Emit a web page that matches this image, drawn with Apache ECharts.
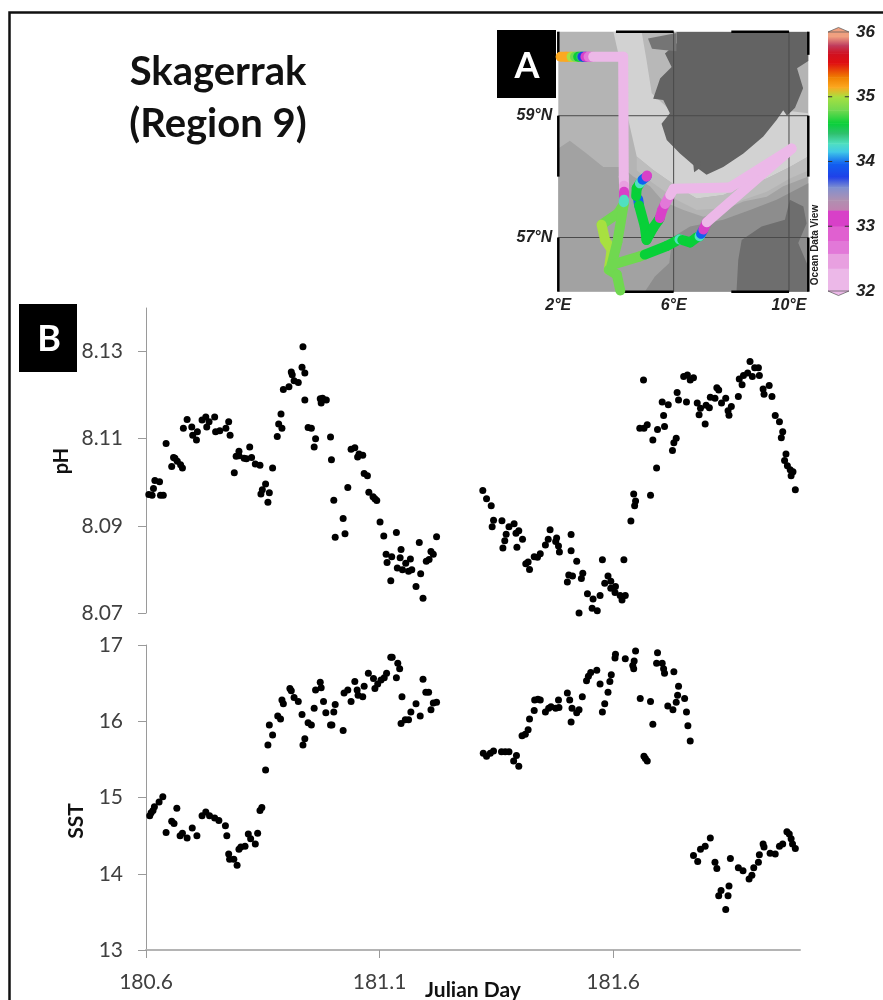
<!DOCTYPE html>
<html><head><meta charset="utf-8">
<style>html,body{margin:0;padding:0;background:#fff}#c{width:883px;height:1000px}</style>
<script src="https://cdn.jsdelivr.net/npm/echarts@6/dist/echarts.min.js"></script>
</head><body><div id="c"></div>
<script>
const dayTicks=[180.6,181.1,181.6];
const phTicks=[8.07,8.09,8.11,8.13];
const sstTicks=[13,14,15,16,17];
const phLeg1=[[180.606,8.0972],[180.613,8.0970],[180.616,8.0986],[180.619,8.1004],[180.629,8.1001],[180.631,8.0970],[180.637,8.0970],[180.643,8.1089],[180.655,8.1036],[180.659,8.1057],[180.662,8.1055],[180.667,8.1048],[180.674,8.1040],[180.678,8.1033],[180.680,8.1124],[180.688,8.1144],[180.698,8.1127],[180.700,8.1108],[180.708,8.1097],[180.710,8.1116],[180.720,8.1143],[180.728,8.1150],[180.735,8.1139],[180.730,8.1127],[180.747,8.1150],[180.749,8.1116],[180.758,8.1118],[180.771,8.1124],[180.777,8.1139],[180.780,8.1108],[180.789,8.1022],[180.793,8.1060],[180.799,8.1071],[180.799,8.1061],[180.810,8.1055],[180.815,8.1054],[180.822,8.1081],[180.826,8.1057],[180.834,8.1042],[180.844,8.1039],[180.871,8.1033],[180.846,8.0973],[180.849,8.0983],[180.856,8.0996],[180.864,8.0976],[180.861,8.0954],[180.881,8.1105],[180.884,8.1134],[180.889,8.1157],[180.891,8.1124],[180.894,8.1213],[180.906,8.1219],[180.911,8.1253],[180.913,8.1247],[180.917,8.1233],[180.926,8.1229],[180.934,8.1264],[180.936,8.1311],[180.940,8.1251],[180.940,8.1189],[180.947,8.1126],[180.954,8.1124],[180.963,8.1100],[180.960,8.1081],[180.973,8.1192],[180.975,8.1182],[180.978,8.1193],[180.986,8.1189],[180.995,8.1104],[180.997,8.1052],[181.002,8.0959],[181.005,8.0874],[181.022,8.0917],[181.026,8.0882],[181.032,8.0988],[181.039,8.1076],[181.047,8.1079],[181.053,8.1058],[181.056,8.1065],[181.064,8.1062],[181.067,8.1020],[181.074,8.1015],[181.077,8.0977],[181.086,8.0967],[181.090,8.0962],[181.094,8.0958],[181.101,8.0909],[181.109,8.0877],[181.114,8.0835],[181.116,8.0816],[181.124,8.0774],[181.126,8.0829],[181.136,8.0885],[181.138,8.0803],[181.144,8.0827],[181.146,8.0846],[181.149,8.0799],[181.156,8.0814],[181.162,8.0796],[181.166,8.0824],[181.169,8.0799],[181.178,8.0761],[181.185,8.0862],[181.188,8.0790],[181.193,8.0734],[181.200,8.0819],[181.206,8.0823],[181.210,8.0841],[181.215,8.0835],[181.222,8.0875]];
const phLeg2=[[181.321,8.0981],[181.329,8.0962],[181.339,8.0946],[181.344,8.0913],[181.341,8.0898],[181.362,8.0912],[181.377,8.0898],[181.388,8.0905],[181.371,8.0881],[181.368,8.0866],[181.364,8.0849],[181.392,8.0883],[181.398,8.0889],[181.406,8.0869],[181.394,8.0851],[181.413,8.0813],[181.418,8.0817],[181.421,8.0800],[181.431,8.0829],[181.438,8.0828],[181.444,8.0836],[181.465,8.0891],[181.461,8.0869],[181.455,8.0856],[181.479,8.0872],[181.477,8.0864],[181.483,8.0854],[181.485,8.0840],[181.510,8.0880],[181.510,8.0843],[181.522,8.0819],[181.505,8.0787],[181.513,8.0785],[181.502,8.0771],[181.535,8.0791],[181.532,8.0779],[181.545,8.0744],[181.557,8.0732],[181.572,8.0740],[181.555,8.0711],[181.566,8.0705],[181.527,8.0700],[181.577,8.0822],[181.589,8.0785],[181.595,8.0773],[181.582,8.0768],[181.605,8.0761],[181.595,8.0757],[181.604,8.0747],[181.615,8.0740],[181.626,8.0740],[181.619,8.0730],[181.623,8.0822],[181.638,8.0911],[181.644,8.0973],[181.648,8.0957],[181.646,8.0946],[181.680,8.0970],[181.693,8.1033],[181.727,8.1073],[181.730,8.1091],[181.735,8.1101],[181.685,8.1097],[181.657,8.1124],[181.666,8.1124],[181.673,8.1132],[181.695,8.1121],[181.710,8.1128],[181.708,8.1153],[181.705,8.1184],[181.718,8.1178],[181.665,8.1235],[181.737,8.1206],[181.740,8.1189],[181.751,8.1243],[181.759,8.1246],[181.765,8.1235],[181.772,8.1240],[181.757,8.1184],[181.780,8.1182],[181.787,8.1170],[181.784,8.1155],[181.797,8.1134],[181.799,8.1177],[181.806,8.1171],[181.808,8.1195],[181.818,8.1193],[181.822,8.1217],[181.826,8.1212],[181.832,8.1182],[181.841,8.1193],[181.853,8.1174],[181.846,8.1164],[181.848,8.1154],[181.868,8.1197],[181.870,8.1237],[181.876,8.1224],[181.879,8.1245],[181.888,8.1251],[181.893,8.1277],[181.898,8.1243],[181.903,8.1263],[181.911,8.1263],[181.913,8.1245],[181.921,8.1214],[181.923,8.1202],[181.934,8.1222],[181.940,8.1197],[181.947,8.1153],[181.956,8.1139],[181.963,8.1116],[181.960,8.1102],[181.970,8.1065],[181.967,8.1050],[181.973,8.1038],[181.979,8.1029],[181.985,8.1024],[181.981,8.1015],[181.990,8.0983]];
const sstLeg1=[[180.608,14.76],[180.611,14.80],[180.615,14.83],[180.618,14.88],[180.628,14.94],[180.636,15.01],[180.643,14.54],[180.655,14.69],[180.660,14.66],[180.666,14.86],[180.673,14.50],[180.678,14.53],[180.688,14.47],[180.699,14.60],[180.709,14.50],[180.720,14.76],[180.728,14.81],[180.736,14.76],[180.747,14.73],[180.756,14.70],[180.770,14.63],[180.773,14.50],[180.777,14.26],[180.779,14.19],[180.788,14.19],[180.795,14.11],[180.799,14.32],[180.803,14.35],[180.812,14.36],[180.819,14.52],[180.824,14.46],[180.834,14.39],[180.839,14.53],[180.844,14.83],[180.848,14.87],[180.856,15.36],[180.861,15.69],[180.864,15.95],[180.871,15.82],[180.882,16.07],[180.888,16.03],[180.891,16.28],[180.894,16.23],[180.908,16.43],[180.911,16.40],[180.917,16.31],[180.926,16.26],[180.934,16.09],[180.936,15.69],[180.940,15.77],[180.947,15.98],[180.954,15.95],[180.960,16.17],[180.963,16.41],[180.973,16.51],[180.975,16.44],[180.980,16.26],[180.985,16.11],[180.995,15.95],[180.998,15.95],[181.002,16.12],[181.005,16.22],[181.022,15.88],[181.024,16.37],[181.032,16.41],[181.039,16.26],[181.047,16.52],[181.052,16.41],[181.054,16.34],[181.064,16.32],[181.067,16.46],[181.076,16.63],[181.087,16.56],[181.090,16.43],[181.096,16.49],[181.103,16.54],[181.110,16.57],[181.115,16.63],[181.124,16.84],[181.127,16.84],[181.139,16.76],[181.143,16.69],[181.136,16.57],[181.148,16.32],[181.146,15.97],[181.155,16.02],[181.162,16.02],[181.167,16.12],[181.178,16.23],[181.187,16.07],[181.193,16.55],[181.199,16.38],[181.205,16.38],[181.210,16.15],[181.215,16.24],[181.222,16.25]];
const sstLeg2=[[181.322,15.58],[181.329,15.54],[181.337,15.58],[181.344,15.61],[181.361,15.60],[181.369,15.60],[181.377,15.60],[181.393,15.55],[181.387,15.48],[181.398,15.41],[181.405,15.81],[181.412,15.83],[181.418,15.89],[181.421,16.03],[181.431,16.14],[181.432,16.28],[181.439,16.29],[181.444,16.28],[181.455,16.12],[181.462,16.17],[181.467,16.19],[181.477,16.17],[181.484,16.18],[181.483,16.28],[181.502,16.37],[181.507,16.28],[181.512,16.17],[181.522,16.11],[181.527,16.15],[181.510,15.99],[181.534,16.32],[181.543,16.53],[181.547,16.59],[181.552,16.64],[181.565,16.67],[181.572,16.49],[181.577,16.12],[181.582,16.23],[181.589,16.38],[181.593,16.52],[181.596,16.61],[181.604,16.83],[181.605,16.88],[181.626,16.82],[181.642,16.73],[181.645,16.79],[181.648,16.92],[181.644,16.69],[181.658,16.30],[181.680,16.26],[181.685,15.96],[181.666,15.54],[181.669,15.51],[181.673,15.48],[181.695,16.90],[181.693,16.76],[181.705,16.76],[181.708,16.69],[181.710,16.63],[181.730,16.65],[181.740,16.46],[181.738,16.34],[181.753,16.30],[181.735,16.25],[181.717,16.20],[181.728,16.15],[181.757,16.12],[181.760,15.94],[181.765,15.74],[181.772,14.24],[181.781,14.16],[181.787,14.32],[181.797,14.36],[181.808,14.47],[181.818,14.15],[181.822,14.07],[181.851,14.20],[181.868,14.08],[181.878,14.04],[181.901,14.08],[181.911,14.15],[181.913,14.25],[181.921,14.39],[181.923,14.35],[181.936,14.27],[181.947,14.26],[181.956,14.36],[181.963,14.39],[181.972,14.55],[181.977,14.52],[181.981,14.46],[181.984,14.39],[181.990,14.33],[181.897,13.98],[181.891,13.93],[181.848,13.84],[181.831,13.78],[181.826,13.71],[181.846,13.71],[181.841,13.53]];

/* map inset: depth shading and land outlines, in degrees lon/lat */
const shelfMid=[[2,58.46],[2.40,58.59],[2.98,58.38],[3.56,58.16],[4.20,58.16],[4.60,58.00],[5.18,57.84],[5.64,57.59],[6.34,57.45],[7.03,57.34],[7.72,57.45],[8.42,57.59],[9.23,57.67],[9.80,57.84],[10.67,58.00],[10.67,56.11],[2,56.11]];
const shelfShallow=[[5.0,56.11],[5.35,56.36],[5.85,56.58],[5.95,57.0],[6.57,57.18],[7.72,57.29],[8.65,57.45],[9.57,57.62],[10.67,57.89],[10.67,56.11]];
const trenchDeep=[[3.91,60.38],[4.08,60.02],[4.31,59.42],[4.43,58.93],[4.72,58.33],[5.29,58.11],[6.10,57.84],[6.80,57.64],[7.72,57.70],[8.42,57.84],[9.23,57.97],[10.03,58.16],[10.67,58.33],[10.67,59.04],[9.80,59.09],[9.46,59.64],[7.72,60.38]];
const trenchEdge=[[4.72,58.33],[5.29,58.11],[6.10,57.84],[6.80,57.64],[7.72,57.70],[8.42,57.84],[9.23,57.97],[10.03,58.16],[10.67,58.33],[10.67,58.10],[10.03,57.97],[9.23,57.75],[8.42,57.62],[7.72,57.48],[6.80,57.45],[6.10,57.62],[5.29,57.89],[4.72,58.10]];
const coastBand=[[4.89,60.38],[5.06,59.91],[5.24,59.37],[5.99,59.04],[6.10,60.38]];
const norway=[[6.10,60.38],[10.67,60.38],[10.67,59.9],[10.28,59.78],[10.49,59.45],[10.21,59.13],[9.93,59.0],[9.80,59.09],[9.57,58.93],[9.11,58.66],[8.42,58.38],[7.72,58.16],[7.14,58.03],[6.68,58.19],[6.22,58.38],[5.76,58.60],[5.58,58.87],[5.87,59.04],[5.64,59.26],[5.29,59.28],[5.53,59.61],[5.93,59.80],[5.70,60.02],[6.10,60.19]];
const westIsle=[[5.11,60.27],[6.10,60.36],[6.10,60.06],[5.65,60.08],[5.25,60.1]];
const island=[[6.68,58.21],[6.91,58.26],[6.94,58.15],[6.71,58.07]];
const denmark=[[8.18,56.11],[8.24,56.63],[8.36,56.96],[9.05,57.18],[9.86,57.29],[10.03,57.62],[10.50,57.51],[10.61,57.23],[10.32,56.91],[10.67,56.52],[10.67,56.11]];
const mapLayers=[shelfMid,shelfShallow,trenchDeep,trenchEdge,coastBand,norway,westIsle,island,denmark];
const mapLayerColors=['#a2a2a2','#8d8d8d','#d2d2d2','#bdbdbd','#b8b8b8','#636363','#757575','#636363','#6e6e6e'];
const gridLons=[6,10], gridLats=[57,59];
const lonLabels=[2,6,10], latLabels=[57,59];

/* cruise track: lon, lat, surface salinity */
const legNorth=[[2.08,59.97,35.25],[2.27,59.97,35.25],[2.46,59.97,35.1],[2.58,59.97,34.9],[2.69,59.97,34.7],[2.79,59.97,34.5],[2.84,59.97,33.9],[2.94,59.97,33.1],[3.05,59.97,32.7],[3.21,59.97,32.1],[4.25,59.97,32.1],[4.27,58.0,32.1],[4.28,57.85,32.4],[4.28,57.75,33.0],[4.28,57.68,33.1],[4.28,57.62,34.3],[4.27,57.58,34.4]];
const legWest=[[4.27,57.55,34.8],[4.08,57.40,34.9],[3.50,57.21,35.0],[3.62,56.96,35.05],[3.85,56.80,35.05],[3.75,56.47,34.95],[4.03,56.39,34.9],[4.15,56.13,34.9]];
const legInner=[[4.27,57.55,34.9],[4.05,56.93,34.95],[3.85,56.55,35.05]];
const legEast=[[3.85,56.55,34.95],[4.83,56.69,34.95],[5.0,56.72,34.7],[5.76,56.86,34.7],[6.2,56.97,34.35],[6.3,56.96,34.7],[6.57,56.92,34.7],[6.8,57.0,34.7],[6.9,57.02,34.4],[6.95,57.06,34.0],[7.03,57.13,33.1],[7.15,57.25,32.3],[10.09,58.46,32.1]];
const legMiddle=[[4.77,57.63,34.0],[4.8,57.53,34.7],[5.0,57.18,34.7],[5.06,56.96,34.7]];
const legLoop=[[5.06,56.96,34.7],[5.29,57.16,34.7],[5.47,57.28,34.7],[5.52,57.32,33.1],[5.6,57.45,33.0],[5.7,57.55,32.6],[5.88,57.7,32.2],[6.0,57.8,32.1],[7.95,57.82,32.1],[10.09,58.46,32.1]];
const legSpur=[[4.7,57.68,34.7],[4.72,57.81,34.7],[4.83,57.89,34.4],[4.92,57.95,34.0],[5.06,58.0,33.0],[5.08,58.02,33.0]];
const trackLegs=[legWest,legInner,legEast,legMiddle,legLoop,legSpur,legNorth];

const salTicks=[32,33,34,35,36];
const salEdges=[32,32.35,32.58,32.78,33,33.25,33.4,33.6,33.76,33.97,34.15,34.28,34.43,34.59,34.79,35,35.15,35.3,35.52,35.67,35.8,35.93,36];
const salColors=['#ecb8e8','#e8a0e0','#e278d8','#e060d0','#d840c8','#c080b0','#b090b0','#8090d0','#2040e8','#1060f0','#40c8e8','#50e0c0','#30c070','#08d038','#70d850','#a8e040','#fca820','#f08000','#e00f10','#d01020','#c04060','#f0a080'];

function salColor(s){for(let i=0;i<salColors.length;i++){if(s<salEdges[i+1])return salColors[i];}return salColors[salColors.length-1];}

const segments=[];
trackLegs.forEach(leg=>{for(let i=0;i<leg.length-1;i++){segments.push([leg[i][0],leg[i][1],leg[i+1][0],leg[i+1][1],leg[i][2]]);}});

const black='#000', axisGrey='#9a9a9a', txt='#404040', f='Lato';
const dot={symbol:'circle',symbolSize:7,itemStyle:{color:black,opacity:1},clip:false};
const mapFont={fontFamily:'Liberation Sans',fontWeight:'bold',fontStyle:'italic',fontSize:16,color:'#222'};

const chart=echarts.init(document.getElementById('c'),null,{renderer:'canvas'});
chart.setOption({
 animation:false,
 backgroundColor:'#fff',
 title:{text:'Skagerrak\n(Region 9)',left:213,top:41,textAlign:'center',textStyle:{fontFamily:f,fontWeight:'bold',fontSize:40,lineHeight:52,color:'#111'}},
 grid:[
  {left:146,top:308,width:654,height:305},
  {left:146,top:645,width:654,height:305},
  {left:558.3,top:31.7,width:250,height:260,show:true,backgroundColor:'#b4b4b4',borderWidth:0},
  {left:828,top:32,width:21,height:259}
 ],
 xAxis:[
  {gridIndex:0,type:'value',min:180.6,max:182,show:false},
  {gridIndex:1,type:'value',min:180.6,max:182,
   axisLine:{lineStyle:{color:'#b4b4b4',width:2},onZero:false},
   axisTick:{length:8,lineStyle:{color:axisGrey},customValues:dayTicks},
   axisLabel:{customValues:dayTicks,margin:22,fontFamily:f,fontSize:21,color:txt,formatter:v=>v.toFixed(1)},
   splitLine:{show:false}},
  {gridIndex:2,type:'value',min:2,max:10.67,
   axisLine:{show:false},axisTick:{show:false},splitLine:{show:false},
   axisLabel:Object.assign({customValues:lonLabels,margin:6,formatter:'{value}°E'},mapFont)},
  {gridIndex:3,type:'value',min:0,max:1,show:false}
 ],
 yAxis:[
  {gridIndex:0,type:'value',min:8.07,max:8.14,
   axisLine:{show:true,onZero:false,lineStyle:{color:axisGrey}},
   axisTick:{show:true,length:8,lineStyle:{color:axisGrey},customValues:phTicks},
   axisLabel:{customValues:phTicks,margin:23,fontFamily:f,fontSize:21,color:txt,formatter:v=>v.toFixed(2)},
   splitLine:{show:false}},
  {gridIndex:1,type:'value',min:13,max:17,interval:1,
   axisLine:{show:true,onZero:false,lineStyle:{color:axisGrey}},
   axisTick:{show:true,length:8,lineStyle:{color:axisGrey}},
   axisLabel:{margin:23,fontFamily:f,fontSize:21,color:txt},
   splitLine:{show:false}},
  {gridIndex:2,type:'value',min:56.11,max:60.38,
   axisLine:{show:false},axisTick:{show:false},splitLine:{show:false},
   axisLabel:Object.assign({customValues:latLabels,margin:6,formatter:'{value}°N'},mapFont)},
  {gridIndex:3,type:'value',position:'right',min:32,max:36,interval:1,
   axisLine:{show:false},axisTick:{show:false},splitLine:{show:false},
   axisLabel:Object.assign({},mapFont,{margin:7,fontSize:17})}
 ],
 series:[
  Object.assign({type:'scatter',name:'pH',xAxisIndex:0,yAxisIndex:0,data:phLeg1.concat(phLeg2)},dot),
  Object.assign({type:'scatter',name:'SST',xAxisIndex:1,yAxisIndex:1,data:sstLeg1.concat(sstLeg2)},dot),
  {type:'custom',name:'depth',xAxisIndex:2,yAxisIndex:2,clip:true,z:1,
   data:mapLayers.map((p,i)=>[p[0][0],p[0][1],i]),
   renderItem:(params,api)=>{const i=api.value(2);
     return {type:'polygon',shape:{points:mapLayers[i].map(q=>api.coord(q))},style:{fill:mapLayerColors[i]}};}},
  {type:'custom',name:'graticule',xAxisIndex:2,yAxisIndex:2,z:2,
   data:gridLons.map(v=>[v,56.11,v,60.38]).concat(gridLats.map(v=>[2,v,10.67,v])),
   renderItem:(params,api)=>{const a=api.coord([api.value(0),api.value(1)]),b=api.coord([api.value(2),api.value(3)]);
     return {type:'line',shape:{x1:a[0],y1:a[1],x2:b[0],y2:b[1]},style:{stroke:'#4a4a4a',lineWidth:1}};}},
  {type:'custom',name:'frame',xAxisIndex:2,yAxisIndex:2,z:3,clip:false,
   data:[[4,60.38,6,60.38],[8,60.38,10,60.38],[4,56.11,6,56.11],[8,56.11,10,56.11],[2,60.38,2,60.0],[2,59,2,58],[2,57,2,56.11],[10.67,60.38,10.67,60],[10.67,59,10.67,58],[10.67,57,10.67,56.11]],
   renderItem:(params,api)=>{const a=api.coord([api.value(0),api.value(1)]),b=api.coord([api.value(2),api.value(3)]);
     return {type:'line',shape:{x1:a[0],y1:a[1],x2:b[0],y2:b[1]},style:{stroke:'#000',lineWidth:2.5}};}},
  {type:'custom',name:'track',xAxisIndex:2,yAxisIndex:2,z:4,clip:false,
   data:segments,
   renderItem:(params,api)=>{const a=api.coord([api.value(0),api.value(1)]),b=api.coord([api.value(2),api.value(3)]);
     return {type:'line',shape:{x1:a[0],y1:a[1],x2:b[0],y2:b[1]},style:{stroke:salColor(api.value(4)),lineWidth:10,lineCap:'round'}};}},
  {type:'custom',name:'salinity scale',xAxisIndex:3,yAxisIndex:3,z:2,clip:false,
   data:salColors.map((c,i)=>[salEdges[i],salEdges[i+1]]),
   renderItem:(params,api)=>{const i=params.dataIndex,a=api.coord([0,api.value(0)]),b=api.coord([1,api.value(1)]);
     const fill=(i<5||i===salColors.length-1)?salColors[i]:new echarts.graphic.LinearGradient(0,1,0,0,[{offset:0,color:salColors[i]},{offset:1,color:salColors[i+1]}]);
     return {type:'rect',shape:{x:a[0],y:b[1],width:b[0]-a[0],height:a[1]-b[1]+0.5},style:{fill:fill}};}},
  {type:'custom',name:'scale caps',xAxisIndex:3,yAxisIndex:3,z:3,clip:false,
   data:[[36,0.07],[32,-0.07]],
   renderItem:(params,api)=>{const v=api.value(0),d=api.value(1);
     return {type:'polygon',shape:{points:[api.coord([0,v]),api.coord([0.5,v+d]),api.coord([1,v])]},
       style:{fill:salColor(v-Math.sign(d)*0.01),stroke:'#555',lineWidth:0.7}};}},
  {type:'custom',name:'scale ticks',xAxisIndex:3,yAxisIndex:3,z:3,clip:false,
   data:[33,34,35].map(v=>[v]),
   renderItem:(params,api)=>{const v=api.value(0);
     const a=api.coord([0,v]),b=api.coord([0.2,v]),c=api.coord([0.8,v]),d=api.coord([1,v]);
     return {type:'group',children:[
       {type:'line',shape:{x1:a[0],y1:a[1],x2:b[0],y2:b[1]},style:{stroke:'#333',lineWidth:1}},
       {type:'line',shape:{x1:c[0],y1:c[1],x2:d[0],y2:d[1]},style:{stroke:'#333',lineWidth:1}}]};}}
 ],
 graphic:[
  {type:'polyline',silent:true,shape:{points:[[9.5,1000],[9.5,12.5],[883,12.5]]},style:{stroke:'#111',lineWidth:2.5,fill:null}},
  {type:'rect',silent:true,shape:{x:497,y:30,width:59,height:68},style:{fill:'#000'}},
  {type:'rect',silent:true,shape:{x:19,y:304,width:58,height:68},style:{fill:'#000'}},
  {type:'text',silent:true,x:527,y:66,style:{text:'A',align:'center',verticalAlign:'middle',fill:'#fff',font:'bold 36px Lato'}},
  {type:'text',silent:true,x:49,y:339,style:{text:'B',align:'center',verticalAlign:'middle',fill:'#fff',font:'bold 36px Lato'}},
  {type:'text',silent:true,x:62,y:461,rotation:Math.PI/2,style:{text:'pH',align:'center',verticalAlign:'middle',fill:'#111',font:'bold 20px Lato'}},
  {type:'text',silent:true,x:76,y:821,rotation:Math.PI/2,style:{text:'SST',align:'center',verticalAlign:'middle',fill:'#111',font:'bold 21px Lato'}},
  {type:'text',silent:true,x:473,y:990,style:{text:'Julian Day',align:'center',verticalAlign:'middle',fill:'#111',font:'bold 21px Lato'}},
  {type:'text',silent:true,x:815,y:245,rotation:Math.PI/2,style:{text:'Ocean Data View',align:'center',verticalAlign:'middle',fill:'#222',font:'bold 10px "Liberation Sans"'}}
 ]
});
</script></body></html>
